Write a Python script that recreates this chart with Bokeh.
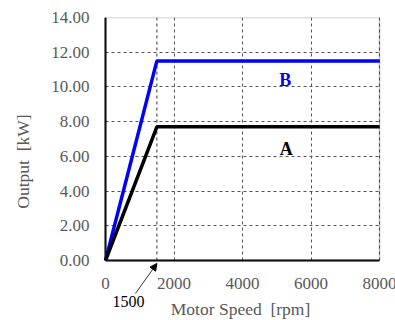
from bokeh.plotting import figure
from bokeh.models import Range1d, FixedTicker, NumeralTickFormatter, Label, Arrow, NormalHead, BoxAnnotation
from bokeh.embed import file_html
from bokeh.resources import INLINE
import math

# data
speed = [0, 1500, 8000]
output_a = [0, 7.7, 7.7]
output_b = [0, 11.5, 11.5]
x_ticks = [0, 2000, 4000, 6000, 8000]
y_ticks = [0, 2, 4, 6, 8, 10, 12, 14]
x_tick_labels = ["0", "2000", "4000", "6000", "8000"]
base_speed = 1500

FONT = "Liberation Serif"
GRAY = "#595959"

# layout (pixels): data box 274 x 243, starting 105 px left, 17 px top; window 395 x 320
W, H = 395, 320
LEFT, TOP, BOX_W, BOX_H = 105, 17, 274, 243
PAD_L = 10  # frame extends this far left of the data box so the "0" label is not clipped
xmin, xmax = x_ticks[0], x_ticks[-1]
ymin, ymax = y_ticks[0], y_ticks[-1]
x_per_px = (xmax - xmin) / BOX_W
y_per_px = (ymax - ymin) / BOX_H
x_start = xmin - PAD_L * x_per_px
x_end = xmax + (W - LEFT - BOX_W) * x_per_px
y_start = ymin - (H - TOP - BOX_H) * y_per_px

p = figure(width=W, height=H, output_backend="svg", toolbar_location=None,
           x_range=Range1d(x_start, x_end), y_range=Range1d(y_start, ymax),
           x_axis_location=None,
           min_border_left=LEFT - PAD_L, min_border_right=0, min_border_top=TOP,
           min_border_bottom=0)
p.background_fill_color = "white"
p.border_fill_color = "white"
p.outline_line_color = None

ax = p.yaxis[0]
ax.bounds = (ymin, ymax)
ax.ticker = FixedTicker(ticks=y_ticks)
ax.formatter = NumeralTickFormatter(format="0.00")
ax.major_tick_out = 0
ax.major_tick_in = 0
ax.minor_tick_out = 0
ax.minor_tick_in = 0
ax.axis_line_color = None
ax.major_label_text_font = FONT
ax.major_label_text_font_size = "17px"
ax.major_label_text_color = GRAY
ax.major_label_standoff = 6

# grid
grid_ok = True
try:
    p.xgrid.cross_bounds = (ymin, ymax)
    p.ygrid.cross_bounds = (xmin, xmax)
except Exception:
    grid_ok = False
for g in (p.xgrid[0], p.ygrid[0]):
    g.grid_line_color = "#555555"
    g.grid_line_dash = "3 3"
    g.grid_line_width = 1
p.xgrid.ticker = FixedTicker(ticks=x_ticks)
p.ygrid.ticker = FixedTicker(ticks=y_ticks)
if not grid_ok:
    p.xgrid.visible = False
    p.ygrid.visible = False
    p.segment(x0=x_ticks, y0=[ymin] * len(x_ticks), x1=x_ticks, y1=[ymax] * len(x_ticks),
              line_color="#555555", line_dash="3 3", line_width=1)
    p.segment(x0=[xmin] * len(y_ticks), y0=y_ticks, x1=[xmax] * len(y_ticks), y1=y_ticks,
              line_color="#555555", line_dash="3 3", line_width=1)

# base-speed guide line
p.segment(x0=[base_speed], y0=[ymin], x1=[base_speed], y1=[ymax],
          line_color="#333333", line_dash="3 3", line_width=1)

# data box frame with heavier left/bottom axis lines
p.add_layout(BoxAnnotation(left=xmin, right=xmax, bottom=ymin, top=ymax,
                           fill_alpha=0, line_color="#333333", line_width=1.5))
p.line([xmin, xmax], [ymin, ymin], line_color="black", line_width=2)
p.line([xmin, xmin], [ymin, ymax], line_color="black", line_width=2)

p.line(speed, output_b, line_color="#0000ff", line_width=3.5)
p.line(speed, output_a, line_color="black", line_width=3.5)

p.add_layout(Label(x=5250, y=10.4, text="B", text_font=FONT, text_font_size="18px",
                   text_font_style="bold", text_color="#0000ff",
                   text_align="center", text_baseline="middle"))
p.add_layout(Label(x=5280, y=6.45, text="A", text_font=FONT, text_font_size="18px",
                   text_font_style="bold", text_color="black",
                   text_align="center", text_baseline="middle"))

# x tick labels
p.text(x=x_ticks, y=[ymin - 23 * y_per_px] * len(x_ticks), text=x_tick_labels,
       text_font={"value": FONT}, text_font_size={"value": "17px"}, text_color=GRAY,
       text_align="center", text_baseline="middle")

# axis titles
p.add_layout(Label(x=3942, y=-2.82, text="Motor Speed\u00a0 [rpm]", text_font=FONT,
                   text_font_size="17.5px", text_color=GRAY,
                   text_align="center", text_baseline="middle"))
p.add_layout(Label(x=-2408, y=5.7, text="Output\u00a0 [kW]", text_font=FONT,
                   text_font_size="17.5px", text_color=GRAY, angle=math.pi / 2,
                   text_align="center", text_baseline="middle"), "left")

# 1500 annotation
p.add_layout(Label(x=672, y=-2.36, text="1500", text_font=FONT,
                   text_font_size="16px", text_color="black",
                   text_align="center", text_baseline="middle"))
p.add_layout(Arrow(x_start=876, y_start=-1.9, x_end=base_speed, y_end=-0.17,
                   line_color="#333333", line_width=1,
                   end=NormalHead(size=7, fill_color="black", line_color="black")))

open("out.html", "w").write(file_html(p, INLINE))
